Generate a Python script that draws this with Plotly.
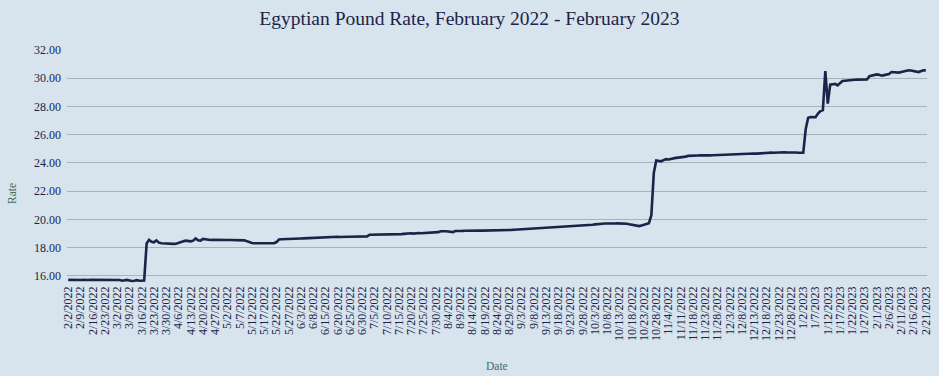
import datetime as dt
import plotly.graph_objects as go

# Labelled dates on the category axis (every 5th observation)
tick_labels = [
    "2/2/2022", "2/9/2022", "2/16/2022", "2/23/2022", "3/2/2022", "3/9/2022", "3/16/2022",
    "3/23/2022", "3/30/2022", "4/6/2022", "4/13/2022", "4/20/2022", "4/27/2022",
    "5/2/2022", "5/7/2022", "5/12/2022", "5/17/2022", "5/22/2022", "5/27/2022",
    "6/3/2022", "6/8/2022", "6/15/2022", "6/20/2022", "6/25/2022", "6/30/2022",
    "7/5/2022", "7/10/2022", "7/15/2022", "7/20/2022", "7/25/2022", "7/30/2022",
    "8/4/2022", "8/9/2022", "8/14/2022", "8/19/2022", "8/24/2022", "8/29/2022",
    "9/3/2022", "9/8/2022", "9/13/2022", "9/18/2022", "9/23/2022", "9/28/2022",
    "10/3/2022", "10/8/2022", "10/13/2022", "10/18/2022", "10/23/2022", "10/28/2022",
    "11/4/2022", "11/11/2022", "11/18/2022", "11/23/2022", "11/28/2022",
    "12/3/2022", "12/8/2022", "12/13/2022", "12/18/2022", "12/23/2022", "12/28/2022",
    "1/2/2023", "1/7/2023", "1/12/2023", "1/17/2023", "1/22/2023", "1/27/2023",
    "2/1/2023", "2/6/2023", "2/11/2023", "2/16/2023", "2/21/2023",
]

rates = [
    15.72, 15.71, 15.72, 15.71, 15.72,
    15.71, 15.72, 15.70, 15.71, 15.72,
    15.72, 15.71, 15.72, 15.73, 15.72,
    15.71, 15.72, 15.71, 15.70, 15.71,
    15.72, 15.71, 15.66, 15.70, 15.72,
    15.68, 15.64, 15.66, 15.70, 15.66,
    15.66, 15.68, 18.30, 18.56, 18.42,
    18.38, 18.52, 18.36, 18.32, 18.30,
    18.30, 18.28, 18.29, 18.27, 18.28,
    18.32, 18.38, 18.45, 18.50, 18.48,
    18.45, 18.50, 18.66, 18.52, 18.50,
    18.62, 18.58, 18.56, 18.55, 18.56,
    18.55, 18.56, 18.55, 18.55, 18.54,
    18.55, 18.55, 18.54, 18.55, 18.54,
    18.54, 18.53, 18.52, 18.45, 18.38,
    18.33, 18.31, 18.31, 18.30, 18.30,
    18.30, 18.30, 18.31, 18.30, 18.32,
    18.40, 18.58, 18.60, 18.60, 18.61,
    18.61, 18.62, 18.62, 18.63, 18.64,
    18.65, 18.66, 18.67, 18.68, 18.69,
    18.70, 18.72, 18.71, 18.73, 18.74,
    18.74, 18.75, 18.76, 18.75, 18.76,
    18.77, 18.76, 18.78, 18.77, 18.78,
    18.78, 18.78, 18.79, 18.78, 18.79,
    18.79, 18.80, 18.80, 18.92, 18.92,
    18.93, 18.92, 18.92, 18.93, 18.93,
    18.94, 18.93, 18.94, 18.94, 18.95,
    18.95, 18.96, 18.98, 19.00, 19.02,
    19.02, 19.00, 19.03, 19.04, 19.02,
    19.03, 19.05, 19.02, 19.04, 19.05,
    19.06, 19.10, 19.16, 19.19, 19.17,
    19.15, 19.12, 19.10, 19.18, 19.20,
    19.20, 19.19, 19.20, 19.21, 19.20,
    19.20, 19.21, 19.20, 19.21, 19.21,
    19.21, 19.22, 19.21, 19.22, 19.23,
    19.23, 19.24, 19.24, 19.25, 19.25,
    19.26, 19.26, 19.27, 19.28, 19.28,
    19.29, 19.30, 19.31, 19.32, 19.33,
    19.34, 19.36, 19.37, 19.38, 19.40,
    19.41, 19.43, 19.44, 19.45, 19.47,
    19.48, 19.49, 19.50, 19.52, 19.53,
    19.54, 19.55, 19.56, 19.57, 19.58,
    19.59, 19.60, 19.61, 19.62, 19.63,
    19.65, 19.68, 19.70, 19.70, 19.71,
    19.70, 19.71, 19.72, 19.71, 19.72,
    19.72, 19.70, 19.68, 19.70, 19.66,
    19.64, 19.60, 19.56, 19.53, 19.58,
    19.62, 19.68, 19.74, 20.30, 23.30,
    24.18, 24.17, 24.12, 24.20, 24.27,
    24.25, 24.30, 24.33, 24.36, 24.38,
    24.39, 24.42, 24.45, 24.50, 24.52,
    24.53, 24.52, 24.53, 24.54, 24.53,
    24.54, 24.55, 24.54, 24.55, 24.56,
    24.55, 24.56, 24.55, 24.56, 24.57,
    24.58, 24.60, 24.62, 24.61, 24.62,
    24.63, 24.64, 24.65, 24.66, 24.67,
    24.67, 24.66, 24.68, 24.69, 24.70,
    24.71, 24.72, 24.73, 24.72, 24.74,
    24.75, 24.74, 24.76, 24.75, 24.76,
    24.74, 24.73, 24.74, 24.72, 24.72,
    24.73, 26.40, 27.20, 27.25, 27.22,
    27.24, 27.50, 27.68, 27.75, 30.50,
    28.20, 29.55, 29.58, 29.60, 29.50,
    29.65, 29.80, 29.82, 29.85, 29.88,
    29.90, 29.89, 29.90, 29.91, 29.90,
    29.90, 29.91, 30.15, 30.20, 30.26,
    30.27, 30.24, 30.18, 30.22, 30.27,
    30.30, 30.44, 30.42, 30.40, 30.40,
    30.45, 30.50, 30.55, 30.56, 30.55,
    30.53, 30.50, 30.44, 30.50, 30.56,
    30.56,
]

y_ticks = [16, 18, 20, 22, 24, 26, 28, 30, 32]


def expand_dates(labels):
    """Category labels: each labelled date followed by the 4 unlabelled observation dates."""
    parsed = [dt.datetime.strptime(s, "%m/%d/%Y") for s in labels]
    out = []
    for a, b in zip(parsed[:-1], parsed[1:]):
        gap = (b - a).days
        offsets = [0, 1, 2, 3, 4] if gap <= 5 else [0, 1, 4, 5, 6]
        for o in offsets:
            d = a + dt.timedelta(days=o)
            out.append(f"{d.month}/{d.day}/{d.year}")
    d = parsed[-1]
    out.append(f"{d.month}/{d.day}/{d.year}")
    return out


dates = expand_dates(tick_labels)

NAVY = "#1c2349"
BG = "#d7e3ed"
TEAL = "#3f6e5e"
SERIF = "Georgia, 'Liberation Serif', 'DejaVu Serif', serif"

L, R, T, B = 67, 12, 50, 93
W, H = 939, 376
plot_w = W - L - R
plot_h = H - T - B

fig = go.Figure(
    go.Scatter(
        x=dates,
        y=rates,
        mode="lines",
        line=dict(color=NAVY, width=2.6),
        hoverinfo="x+y",
    )
)

fig.update_layout(
    width=W,
    height=H,
    paper_bgcolor=BG,
    plot_bgcolor=BG,
    margin=dict(l=L, r=R, t=T, b=B, autoexpand=False),
    showlegend=False,
    title=dict(
        text="Egyptian Pound Rate, February 2022 - February 2023",
        x=0.5,
        xanchor="center",
        y=1 - 18 / H,
        yanchor="middle",
        font=dict(family=SERIF, size=19.5, color=NAVY),
    ),
    annotations=[
        dict(
            text="Rate",
            xref="paper", yref="paper",
            x=(12 - L) / plot_w, y=(H - B - 194) / plot_h,
            xanchor="center", yanchor="middle",
            textangle=-90, showarrow=False,
            font=dict(family=SERIF, size=11.5, color=TEAL),
        ),
        dict(
            text="Date",
            xref="paper", yref="paper",
            x=0.5, y=-(366 - (H - B)) / plot_h,
            xanchor="center", yanchor="middle",
            showarrow=False,
            font=dict(family=SERIF, size=11.5, color=TEAL),
        ),
    ],
)

fig.update_xaxes(
    type="category",
    range=[-0.5, len(dates) - 0.5],
    tickmode="array",
    tickvals=tick_labels,
    ticktext=tick_labels,
    tickangle=-90,
    tickfont=dict(family=SERIF, size=12, color=NAVY),
    showgrid=False,
    zeroline=False,
    showline=False,
    ticks="",
    automargin=False,
)

fig.update_yaxes(
    range=[15.5, 32.0],
    tickmode="array",
    tickvals=y_ticks,
    tickformat=".2f",
    tickfont=dict(family=SERIF, size=12, color=NAVY),
    showgrid=True,
    gridcolor="#a9b3bd",
    gridwidth=1.3,
    zeroline=False,
    showline=False,
    ticks="",
    ticklabelstandoff=5,
    automargin=False,
)

fig.write_html(
    "out.html",
    config={"displayModeBar": False},
    post_script="document.body.style.margin='0px';",
)
